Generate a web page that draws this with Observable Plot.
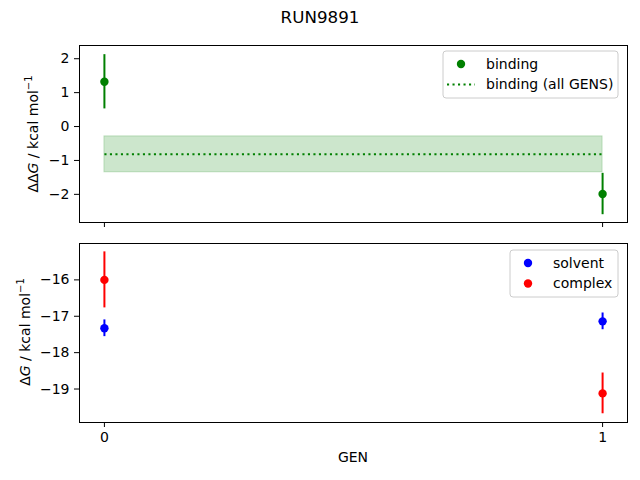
<!DOCTYPE html>
<html><head><meta charset="utf-8">
<script src="https://cdn.jsdelivr.net/npm/d3@7"></script>
<script src="https://cdn.jsdelivr.net/npm/@observablehq/plot@0.6"></script>
<style>
body{margin:0;background:#fff;font-family:"DejaVu Sans",sans-serif;}
#title{height:35px;line-height:35px;text-align:center;font-size:16.7px;color:#000;}
#top,#bottom{line-height:0;}
svg{display:block;}
</style></head><body>
<div id="title">RUN9891</div>
<div id="top"></div>
<div id="bottom"></div>
<script>
const gens = [0, 1];
const binding = [1.32, -1.99];
const bindingErr = [0.80, 0.61];
const bindingAll = -0.82;
const bindingAllErr = 0.53;
const solvent = [-17.33, -17.14];
const solventErr = [0.23, 0.23];
const complex = [-16.0, -19.12];
const complexErr = [0.77, 0.56];
const topTicks = [-2, -1, 0, 1, 2];
const bottomTicks = [-19, -18, -17, -16];
const xTicks = [0, 1];

const rows = (vals, errs) => gens.map((g, i) => ({gen: g, v: vals[i], lo: vals[i] - errs[i], hi: vals[i] + errs[i]}));
const bRows = rows(binding, bindingErr);
const sRows = rows(solvent, solventErr);
const cRows = rows(complex, complexErr);
const band = [{x1: gens[0], x2: gens[gens.length - 1], y1: bindingAll - bindingAllErr, y2: bindingAll + bindingAllErr}];
const meanLine = gens.map(g => ({gen: g, v: bindingAll}));

const fmt = d3.format("d");
const common = {
  width: 640, marginLeft: 79, marginRight: 13,
  x: {type: "linear", domain: [-0.05, 1.05]},
  style: {fontFamily: "DejaVu Sans", fontSize: "14px", color: "#000", background: "#fff"}
};
const R = 4.2, SW = 2;

const topPlot = Plot.plot({
  ...common,
  height: 198, marginTop: 10, marginBottom: 11,
  y: {domain: [-2.83, 2.39]},
  marks: [
    Plot.rect(band, {x1: "x1", x2: "x2", y1: "y1", y2: "y2", fill: "green", fillOpacity: 0.2, stroke: "green", strokeOpacity: 0.2}),
    Plot.line(meanLine, {x: "gen", y: "v", stroke: "green", strokeWidth: 2, strokeDasharray: "2.1,3.4", strokeLinecap: "butt"}),
    Plot.ruleX(bRows, {x: "gen", y1: "lo", y2: "hi", stroke: "green", strokeWidth: SW}),
    Plot.dot(bRows, {x: "gen", y: "v", r: R, fill: "green"}),
    Plot.frame({stroke: "black", strokeWidth: 1}),
    Plot.axisY({ticks: topTicks, tickSize: 5, tickPadding: 5, tickFormat: fmt, label: null}),
    Plot.axisX({ticks: xTicks, tickSize: 5, tickFormat: () => "", label: null})
  ]
});

const bottomPlot = Plot.plot({
  ...common,
  height: 247, marginTop: 10, marginBottom: 58,
  y: {domain: [-19.92, -15.0]},
  marks: [
    Plot.ruleX(sRows, {x: "gen", y1: "lo", y2: "hi", stroke: "blue", strokeWidth: SW}),
    Plot.dot(sRows, {x: "gen", y: "v", r: R, fill: "blue"}),
    Plot.ruleX(cRows, {x: "gen", y1: "lo", y2: "hi", stroke: "red", strokeWidth: SW}),
    Plot.dot(cRows, {x: "gen", y: "v", r: R, fill: "red"}),
    Plot.frame({stroke: "black", strokeWidth: 1}),
    Plot.axisY({ticks: bottomTicks, tickSize: 5, tickPadding: 5, tickFormat: fmt, label: null}),
    Plot.axisX({ticks: xTicks, tickSize: 5, tickPadding: 5, tickFormat: fmt, label: null})
  ]
});

document.getElementById("top").appendChild(topPlot);
document.getElementById("bottom").appendChild(bottomPlot);

function ylabel(svg, x, y, prefix) {
  const g = d3.select(svg).append("g")
    .attr("transform", `translate(${x},${y}) rotate(-90)`)
    .attr("text-anchor", "middle").attr("font-size", 14).attr("fill", "#000")
    .attr("stroke", "none");
  const t = g.append("text").attr("x", 0).attr("y", 0).attr("dy", "0.35em");
  t.append("tspan").text(prefix);
  t.append("tspan").attr("font-style", "italic").text("G");
  t.append("tspan").text("\u00a0/\u00a0kcal\u00a0mol");
  t.append("tspan").attr("font-size", 10).attr("dy", -6).text("−1");
}
ylabel(topPlot, 33, 99, "ΔΔ");
ylabel(bottomPlot, 25, 99, "Δ");

d3.select(bottomPlot).append("text").attr("x", 353).attr("y", 224).attr("dy", "0.35em")
  .attr("text-anchor", "middle").attr("font-size", 14).attr("fill", "#000").text("GEN");

function legend(svg, box, items) {
  const g = d3.select(svg).append("g").attr("text-anchor", "start");
  g.append("rect").attr("x", box.x).attr("y", box.y).attr("width", box.w).attr("height", box.h)
    .attr("rx", 3).attr("fill", "#fff").attr("fill-opacity", 0.8).attr("stroke", "#cccccc");
  items.forEach((it, i) => {
    const cy = box.y + 13 + i * 20.5;
    if (it.type === "dot") {
      g.append("circle").attr("cx", box.x + 18).attr("cy", cy).attr("r", R).attr("fill", it.color);
    } else {
      g.append("line").attr("x1", box.x + 4).attr("x2", box.x + 32).attr("y1", cy).attr("y2", cy)
        .attr("stroke", it.color).attr("stroke-width", 2).attr("stroke-dasharray", "2.1,3.4");
    }
    g.append("text").attr("x", box.x + 43).attr("y", cy).attr("dy", "0.35em")
      .attr("text-anchor", "start").attr("font-size", 14).attr("fill", "#000").text(it.label);
  });
}
legend(topPlot, {x: 443, y: 16, w: 175, h: 47}, [
  {type: "dot", color: "green", label: "binding"},
  {type: "line", color: "green", label: "binding (all GENS)"}
]);
legend(bottomPlot, {x: 510, y: 17, w: 108, h: 47}, [
  {type: "dot", color: "blue", label: "solvent"},
  {type: "dot", color: "red", label: "complex"}
]);
</script>
</body></html>
